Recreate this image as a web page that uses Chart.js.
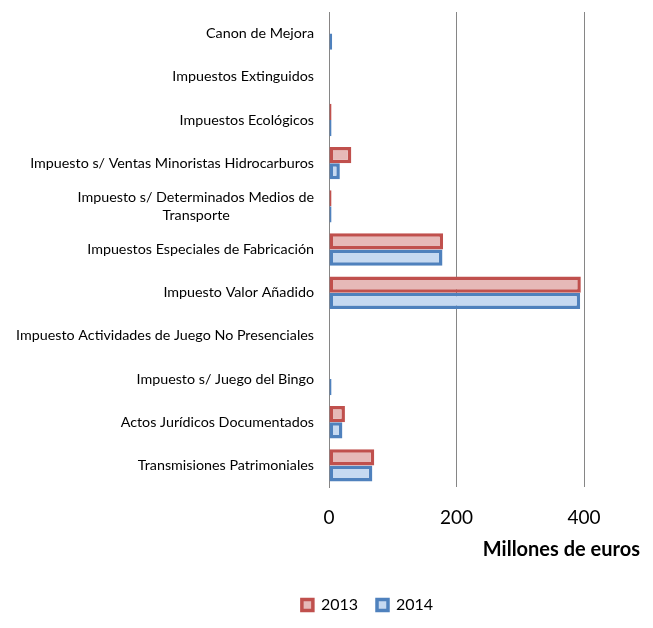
<!DOCTYPE html>
<html><head><meta charset="utf-8">
<script src="https://cdn.jsdelivr.net/npm/chart.js@4.4.1/dist/chart.umd.min.js"></script>
<style>html,body{margin:0;padding:0;background:#fff}#wrap{width:653px;height:628px;position:relative}</style>
</head><body><div id="wrap"><canvas id="c"></canvas></div>
<script>
const categories = [
  'Canon de Mejora',
  'Impuestos Extinguidos',
  'Impuestos Ecológicos',
  'Impuesto s/ Ventas Minoristas Hidrocarburos',
  ['Impuesto s/ Determinados Medios de', 'Transporte'],
  'Impuestos Especiales de Fabricación',
  'Impuesto Valor Añadido',
  'Impuesto Actividades de Juego No Presenciales',
  'Impuesto s/ Juego del Bingo',
  'Actos Jurídicos Documentados',
  'Transmisiones Patrimoniales'
];
const series2013 = [1, 0, 4, 35, 4, 179, 395, 0, 0, 25, 71];
const series2014 = [5, 0, 4, 17, 4, 178, 394, 0, 4, 21, 68];
const seriesNames = ['2013', '2014'];
const xTickStep = 200;
const xMax = 400;
const axisTitle = 'Millones de euros';

const labelFontSize = 14.3;
function centerLines(label) {
  if (!Array.isArray(label)) return label;
  const m = document.createElement('canvas').getContext('2d');
  m.font = labelFontSize + 'px Lato';
  const w = Math.max(...label.map(s => m.measureText(s).width));
  const sw = m.measureText(' ').width;
  return label.map(s => s + ' '.repeat(Math.max(0, Math.round((w - m.measureText(s).width) / 2 / sw))));
}

const legendShift = {
  id: 'legendShift',
  afterLayout(chart) {
    const L = chart.legend;
    if (L) { L.left += 45; L.right += 45; }
  }
};

new Chart(document.getElementById('c'), {
  type: 'bar',
  data: {
    labels: categories.map(centerLines),
    datasets: [
      { label: seriesNames[0], data: series2013, backgroundColor: '#E6B9B8', borderColor: '#C0504D', borderWidth: 3.5, borderSkipped: false },
      { label: seriesNames[1], data: series2014, backgroundColor: '#C6D9F1', borderColor: '#4F81BD', borderWidth: 3.5, borderSkipped: false }
    ]
  },
  plugins: [legendShift],
  options: {
    indexAxis: 'y',
    responsive: true,
    maintainAspectRatio: false,
    animation: false,
    categoryPercentage: 0.75,
    barPercentage: 1,
    layout: { padding: { left: 5, right: 13, top: 12, bottom: 5 } },
    scales: {
      x: {
        min: 0, max: xMax,
        ticks: { stepSize: xTickStep, padding: 19, color: '#000', font: { family: 'Lato', size: 19 } },
        grid: { color: '#868686', drawTicks: false },
        border: { display: false },
        afterFit: s => { s.height = 43; }
      },
      y: {
        ticks: { padding: 15, color: '#000', font: { family: 'Lato', size: labelFontSize }, autoSkip: false },
        grid: { display: false, drawTicks: false },
        border: { display: true, color: '#868686' },
        afterFit: s => { s.width = 324; s.paddingTop = 0; s.paddingBottom = 0; }
      },
      y2: {
        type: 'linear',
        position: 'right',
        display: true,
        ticks: { display: false },
        grid: { display: false, drawTicks: false },
        border: { display: false },
        afterFit: s => { s.width = 56; s.paddingTop = 0; s.paddingBottom = 0; }
      }
    },
    plugins: {
      legend: {
        position: 'bottom',
        labels: { boxWidth: 11, boxHeight: 11, padding: 19, color: '#000', font: { family: 'Lato', size: 16 } }
      },
      title: {
        display: true, text: axisTitle, position: 'bottom', align: 'end', weight: 500,
        color: '#000', font: { family: 'Lato', size: 20, weight: 'bold' },
        padding: { top: 8, bottom: 16 }
      },
      tooltip: { enabled: false }
    }
  }
});
</script></body></html>
